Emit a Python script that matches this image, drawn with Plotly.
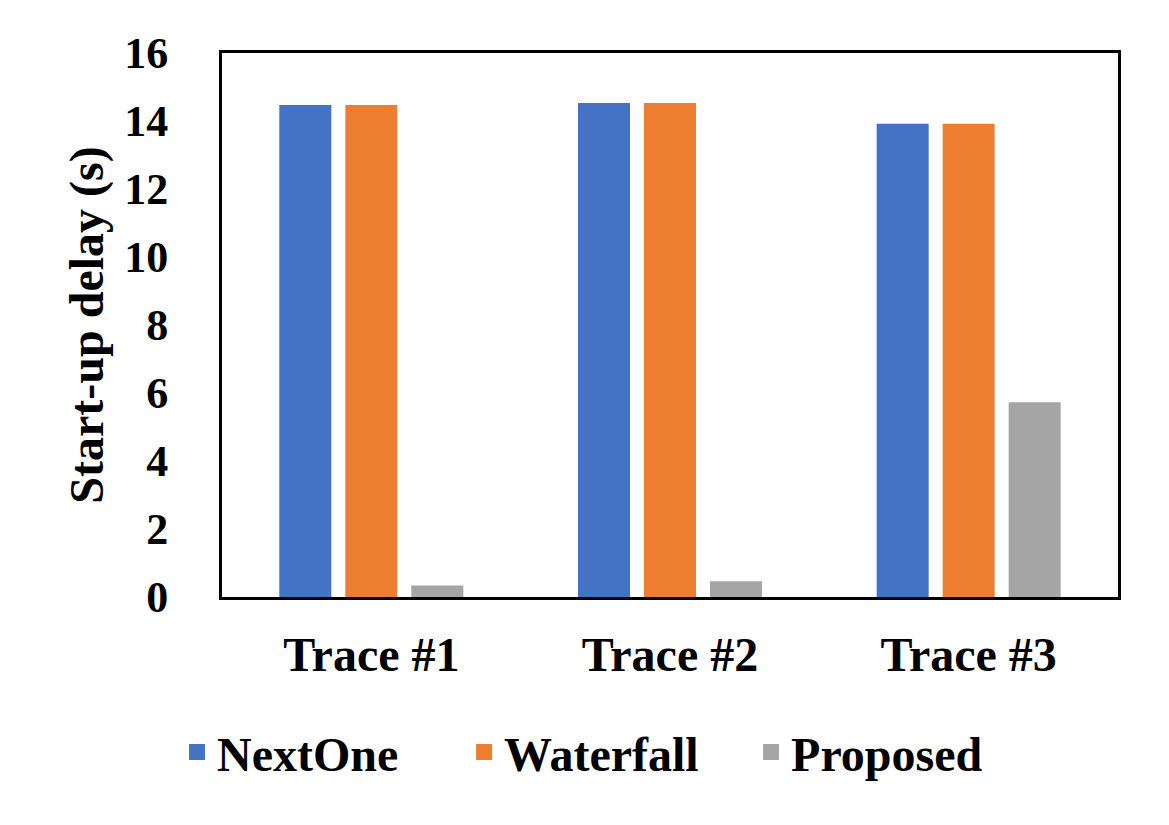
import plotly.graph_objects as go

# data
categories = ['Trace #1', 'Trace #2', 'Trace #3']
nextone = [14.47, 14.53, 13.92]
waterfall = [14.47, 14.53, 13.92]
proposed = [0.34, 0.46, 5.73]

series = [
    ('NextOne', nextone, '#4472C4'),
    ('Waterfall', waterfall, '#ED7D31'),
    ('Proposed', proposed, '#A5A5A5'),
]

FONT = 'Liberation Serif'

fig = go.Figure()

for name, vals, color in series:
    fig.add_trace(go.Bar(
        x=categories,
        y=vals,
        name=name,
        marker=dict(color=color, line=dict(width=0)),
        showlegend=False,
    ))
    # legend swatch (bigger squares than the default bar swatch)
    fig.add_trace(go.Scatter(
        x=[None], y=[None],
        mode='markers',
        name=name,
        marker=dict(symbol='square', size=16, color=color),
    ))

# page has an 8px body margin, so the figure is a bit smaller than the window
fig.update_layout(
    width=1153,
    height=809,
    margin=dict(l=214, r=43, t=45, b=220),
    plot_bgcolor='white',
    paper_bgcolor='white',
    barmode='group',
    bargap=0.337,
    bargroupgap=0.212,
    font=dict(family=FONT, size=48, color='black', weight='bold'),
    legend=dict(
        orientation='h',
        xref='container', yref='container',
        x=0.52, xanchor='center',
        y=0.08, yanchor='middle',
        font=dict(family=FONT, size=48, color='black', weight='bold'),
        itemsizing='trace',
        entrywidth=242,
    ),
)

fig.update_xaxes(
    showline=True, mirror=True, linecolor='black', linewidth=3,
    showgrid=False, ticks='', ticklabelstandoff=13,
    tickfont=dict(family=FONT, size=48, color='black', weight='bold'),
)
fig.update_yaxes(
    range=[0, 16], dtick=2,
    showline=True, mirror=True, linecolor='black', linewidth=3,
    showgrid=False, zeroline=False, ticks='', ticklabelstandoff=42,
    tickfont=dict(family=FONT, size=44, color='black', weight='bold'),
    title=dict(text='Start-up delay (s)', standoff=6,
               font=dict(family=FONT, size=48, color='black', weight='bold')),
)

fig.write_html("out.html")
